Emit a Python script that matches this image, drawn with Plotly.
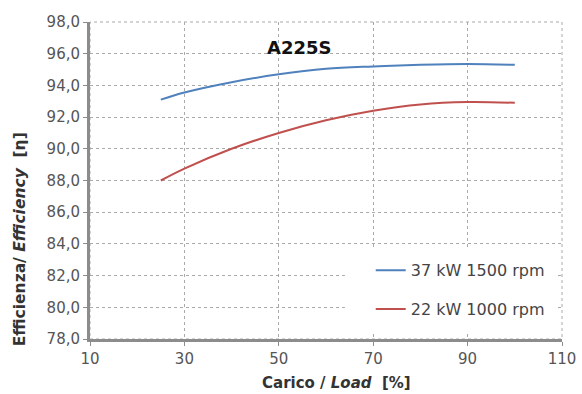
import plotly.graph_objects as go

load = [25, 30, 40, 50, 60, 70, 80, 90, 100]
eff_37kw = [93.1, 93.55, 94.2, 94.7, 95.05, 95.2, 95.3, 95.35, 95.3]
eff_22kw = [88.0, 88.75, 90.0, 91.0, 91.8, 92.4, 92.8, 92.95, 92.9]
names = ["37 kW 1500 rpm", "22 kW 1000 rpm"]
colors = ["#4F81BD", "#C0504D"]

fig = go.Figure()
for i, (y, n, c) in enumerate(zip([eff_37kw, eff_22kw], names, colors)):
    fig.add_trace(go.Scatter(x=load, y=y, name=n, mode="lines", legendgroup=f"g{i}",
                             line=dict(color=c, width=2, shape="spline")))

fig.update_layout(
    width=582, height=394,
    margin=dict(l=90, r=20, t=22, b=55, autoexpand=False),
    paper_bgcolor="white", plot_bgcolor="white",
    separators=",.",
    font=dict(family="DejaVu Sans", color="#555555", size=14),
    showlegend=True,
    legend=dict(x=0.974, y=0.04, xanchor="right", yanchor="bottom",
                bgcolor="white", borderwidth=0,
                font=dict(size=16, color="#444444"),
                tracegroupgap=15),
    annotations=[
        dict(text="<b>A225S</b>", x=0.442, y=0.92, xref="paper", yref="paper",
             yanchor="middle", showarrow=False, font=dict(size=18, color="#111111")),
        dict(text="<b>Carico / <i>Load</i>  [%]</b>", x=0.523, y=-0.139, xref="paper", yref="paper",
             xanchor="center", yanchor="middle", showarrow=False,
             font=dict(size=15, color="#333333")),
        dict(text="<b>Efficienza/ <i>Efficiency</i>  [η]</b>", x=-0.148, y=0.315, xref="paper", yref="paper",
             xanchor="center", yanchor="middle", textangle=-90, showarrow=False,
             font=dict(size=15.5, color="#333333")),
    ],
)
fig.update_xaxes(range=[10, 110], tickvals=[10, 30, 50, 70, 90, 110],
                 showgrid=True, gridcolor="#aaaaaa", griddash="dot", gridwidth=1,
                 showline=True, linecolor="#8c8c8c", linewidth=3,
                 ticks="outside", tickcolor="#8c8c8c", ticklen=4, zeroline=False,
                 automargin=False, tickfont=dict(size=15, color="#555555"))
fig.update_yaxes(range=[78, 98], tickvals=list(range(78, 100, 2)), tickformat=".1f",
                 showgrid=True, gridcolor="#aaaaaa", griddash="dot", gridwidth=1,
                 showline=True, linecolor="#8c8c8c", linewidth=3,
                 ticks="outside", tickcolor="#8c8c8c", ticklen=4, zeroline=False,
                 automargin=False, tickfont=dict(size=15, color="#555555"))
fig.add_shape(type="rect", xref="paper", yref="paper", x0=0, y0=0, x1=1, y1=1,
              line=dict(color="#aaaaaa", width=1, dash="dot"), layer="below")
# white backing box of the legend (covers gridlines as in the reference)
fig.add_shape(type="rect", xref="paper", yref="paper", x0=0.54, y0=0.025, x1=0.985, y1=0.285,
              fillcolor="white", line=dict(width=0), layer="above")

fig.write_html("out.html", config={"displayModeBar": False},
               post_script="document.body.style.margin='0';document.body.style.overflow='hidden';")
